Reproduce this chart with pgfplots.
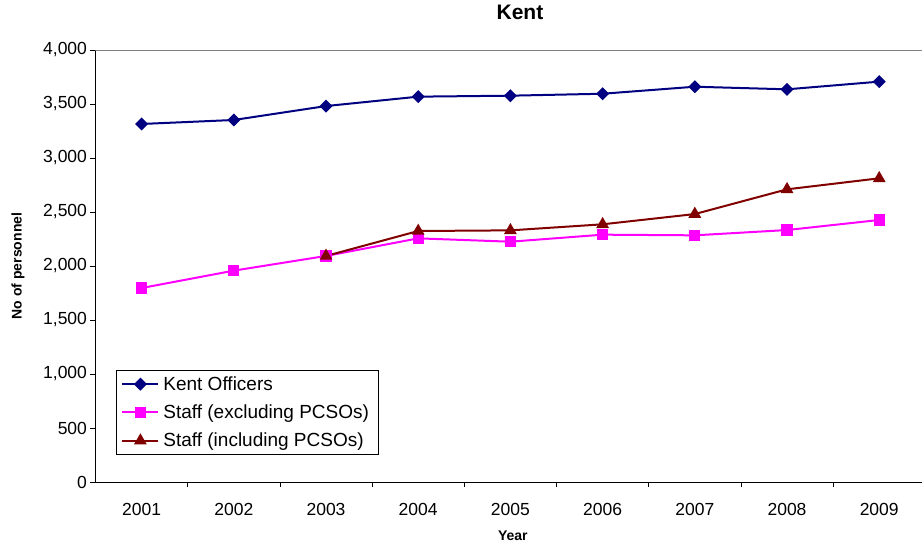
\documentclass[border=0pt]{standalone}
\usepackage{fontspec}
\setmainfont{Liberation Sans}
\usepackage{pgfplots}
\pgfplotsset{compat=1.18}

\definecolor{officers}{RGB}{0,0,128}
\definecolor{staffex}{RGB}{255,0,255}
\definecolor{staffin}{RGB}{128,0,0}
\definecolor{frame}{RGB}{128,128,128}

\begin{document}
\begin{tikzpicture}[x=1pt,y=1pt]
\path[use as bounding box] (-95.5,-67) rectangle (826.5,482);
\begin{axis}[
  at={(0,0)}, anchor=south west,
  scale only axis, width=826.5pt, height=432pt,
  xmin=-0.5, xmax=8.464, ymin=0, ymax=4000,
  axis x line*=bottom, axis y line*=left,
  axis line style={-, black, line width=0.8pt},
  xtick={0,...,8},
  xticklabels={2001,2002,2003,2004,2005,2006,2007,2008,2009},
  major x tick style={draw=none},
  minor xtick={0.5,1.5,...,7.5},
  ytick={0,500,...,4000},
  tick align=outside,
  major tick length=5pt, minor tick length=5pt,
  tick style={black, line width=0.8pt},
  /pgf/number format/assume math mode=true,
  yticklabel style={/pgf/number format/.cd, 1000 sep={,}},
  ticklabel style={font=\fontsize{17.5}{20}\selectfont},
  xticklabel style={yshift=-13pt},
  title={Kent},
  title style={at={(axis description cs:0.5136,1.074)}, anchor=center,
    font=\fontsize{21}{24}\bfseries},
  xlabel={Year},
  xlabel style={at={(axis description cs:0.505,-0.125)}, anchor=center,
    font=\fontsize{14}{16}\bfseries},
  ylabel={No of personnel},
  ylabel style={at={(axis description cs:-0.0938,0.5)}, anchor=center,
    font=\fontsize{14}{16}\bfseries},
  legend style={at={(axis description cs:0.0248,0.259)}, anchor=north west,
    draw=black, line width=0.8pt, font=\fontsize{19}{22}\selectfont,
    inner xsep=5pt, inner ysep=4pt, row sep=9pt,
    nodes={inner xsep=4pt}},
  legend cell align=left,
  legend image code/.code={%
    \draw[mark repeat=2,mark phase=2,#1]
      plot coordinates {(0pt,0pt) (18pt,0pt) (36pt,0pt)};},
  every axis plot/.append style={line width=2pt},
]
\addplot[color=officers, mark=square*, mark size=3.6pt,
  mark options={rotate=45, solid}]
  coordinates {(0,3315) (1,3352) (2,3481) (3,3568) (4,3577) (5,3595)
               (6,3660) (7,3636) (8,3707)};
\addlegendentry{Kent Officers}
\addplot[color=staffex, mark=square*, mark size=4.6pt]
  coordinates {(0,1796) (1,1957) (2,2093) (3,2256) (4,2225) (5,2290)
               (6,2284) (7,2333) (8,2426)};
\addlegendentry{Staff (excluding PCSOs)}
\addplot[color=staffin, mark=triangle*, mark size=5.4pt]
  coordinates {(2,2093) (3,2324) (4,2330) (5,2386) (6,2481) (7,2710)
               (8,2812)};
\addlegendentry{Staff (including PCSOs)}
\draw[frame, line width=1.6pt] (rel axis cs:0,1) -- (rel axis cs:1,1);
\end{axis}
\end{tikzpicture}
\end{document}
